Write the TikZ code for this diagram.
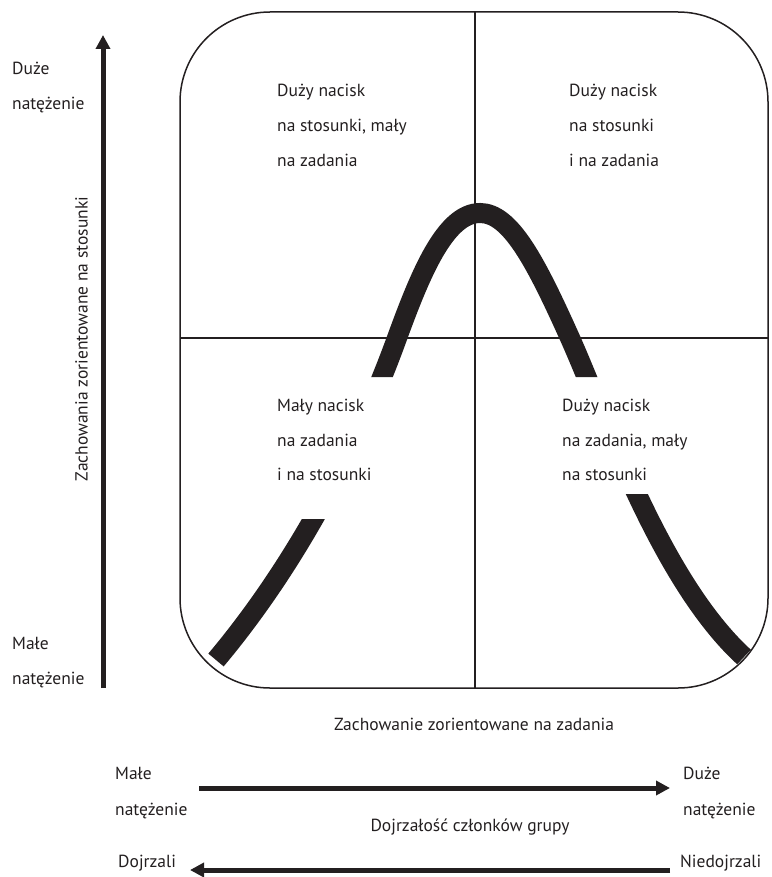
\documentclass[tikz,border=0pt]{standalone}
\usepackage{fontspec}
\setmainfont{PT Sans}
\usetikzlibrary{arrows.meta,positioning}
\definecolor{ink}{HTML}{231F20}

\begin{document}
\begin{tikzpicture}[
    x=1pt, y=-1pt,
    inner sep=0pt,
    txt/.style={anchor=mid west, text=ink, font=\fontsize{17.5}{20}\selectfont},
    ctxt/.style={anchor=mid, text=ink, font=\fontsize{17.5}{20}\selectfont},
    frm/.style={draw=ink, line width=1.5pt, rounded corners=90pt},
    sep/.style={draw=ink, line width=1.2pt},
    ax/.style={draw=ink, line width=5pt, -{Triangle[width=14pt,length=14pt]}},
    bell/.style={draw=ink, line width=20pt, line cap=butt},
    ]
    \useasboundingbox (0,0) rectangle (771,877);

    %frame and quadrants
    \draw[frm] (180,12) rectangle (768,688);
    \coordinate (vt) at (475,12);
    \coordinate (vb) at (475,688);
    \coordinate (hl) at (180,338);
    \coordinate (hr) at (768,338);
    \draw[sep] (vt) -- (vb);
    \draw[sep] (hl) -- (hr);

    %bell curve
    \begin{scope}
    \clip (0,0) rectangle (771,377) (0,519) rectangle (475,877)
        (475,494) rectangle (771,877);
    \draw[bell] (216,660) .. controls (300,560) and (360,440) .. (397,338)
        .. controls (420,275) and (445,213) .. (480,213)
        .. controls (510,213) and (535,260) .. (570,338)
        .. controls (605,416) and (660,580) .. (744,657);
    \end{scope}

    %quadrant texts
    \node[txt] (q1a) at (277,94) {Duży nacisk};
    \node[txt] (q1b) at (277,129) {na stosunki, mały};
    \node[txt] (q1c) at (277,164) {na zadania};
    \node[txt] (q2a) at (569,94) {Duży nacisk};
    \node[txt] (q2b) at (569,129) {na stosunki};
    \node[txt] (q2c) at (569,164) {i na zadania};
    \node[txt] (q3a) at (277,409) {Mały nacisk};
    \node[txt] (q3b) at (277,444) {na zadania};
    \node[txt] (q3c) at (277,478) {i na stosunki};
    \node[txt] (q4a) at (562,409) {Duży nacisk};
    \node[txt] (q4b) at (562,444) {na zadania, mały};
    \node[txt] (q4c) at (562,478) {na stosunki};

    %vertical axis
    \coordinate (ya) at (103,688);
    \coordinate (yb) at (103,35);
    \draw[ax] (ya) -- (yb);
    \node[ctxt, rotate=90] (ylab) at (85,339) {Zachowania zorientowane na stosunki};
    \node[txt] (yhi1) at (12,72) {Duże};
    \node[txt] (yhi2) at (12,107) {natężenie};
    \node[txt] (ylo1) at (12,647) {Małe};
    \node[txt] (ylo2) at (12,682) {natężenie};

    %horizontal axis
    \node[ctxt] (xlab) at (474,728) {Zachowanie zorientowane na zadania};

    %maturity scale
    \node[txt] (mlo1) at (115,777) {Małe};
    \node[txt] (mlo2) at (115,813) {natężenie};
    \node[txt] (mhi1) at (683,777) {Duże};
    \node[txt] (mhi2) at (683,813) {natężenie};
    \node[ctxt] (mlab) at (470,829) {Dojrzałość członków grupy};
    \node[txt] (dj) at (118,865) {Dojrzali};
    \node[txt] (ndj) at (680,865) {Niedojrzali};
    \coordinate (m1) at (199,788);
    \coordinate (m2) at (670,788);
    \coordinate (d1) at (670,870);
    \coordinate (d2) at (190,870);
    \draw[ax] (m1) -- (m2);
    \draw[ax] (d1) -- (d2);

\end{tikzpicture}
\end{document}
